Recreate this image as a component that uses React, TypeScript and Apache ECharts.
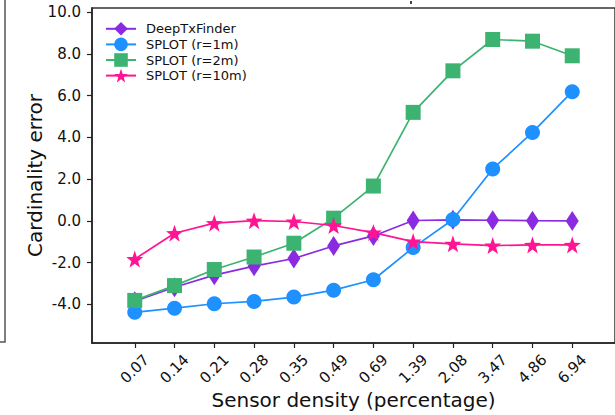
import React, { useEffect, useRef } from "react";
import * as echarts from "echarts";

const xLabels = ["0.07", "0.14", "0.21", "0.28", "0.35", "0.49", "0.69", "1.39", "2.08", "3.47", "4.86", "6.94"];
const yTicks = [-4, -2, 0, 2, 4, 6, 8, 10];
const deepTxFinder = [-3.85, -3.18, -2.6, -2.17, -1.8, -1.2, -0.72, 0.02, 0.05, 0.03, 0.01, 0.0];
const splot1m = [-4.38, -4.18, -3.97, -3.86, -3.65, -3.32, -2.82, -1.28, 0.07, 2.49, 4.24, 6.19];
const splot2m = [-3.81, -3.1, -2.33, -1.73, -1.07, 0.13, 1.67, 5.2, 7.19, 8.69, 8.61, 7.91];
const splot10m = [-1.83, -0.59, -0.11, 0.01, -0.03, -0.22, -0.56, -0.99, -1.1, -1.18, -1.15, -1.15];

const FONT = "DejaVu Sans";

export default function App() {
  const ref = useRef<HTMLDivElement>(null);
  useEffect(() => {
    if (!ref.current) return;
    const chart = echarts.init(ref.current, undefined, { renderer: "svg" });
    const toPairs = (arr: number[]) => arr.map((v, i) => [i, v]);
    const idx = xLabels.map((_, i) => i);
    const mk = (name: string, data: number[], color: string, symbol: string, size: any) => ({
      name,
      type: "line",
      data: toPairs(data),
      symbol,
      symbolSize: size,
      showSymbol: true,
      lineStyle: { color, width: 1.7 },
      itemStyle: { color, borderWidth: 0 },
      emphasis: { disabled: true },
    });
    chart.setOption({
      animation: false,
      backgroundColor: "#ffffff",
      textStyle: { fontFamily: FONT },
      grid: {
        left: 92,
        top: 8,
        right: -12,
        bottom: 72,
        show: true,
        borderColor: "#333",
        borderWidth: 1.5,
        backgroundColor: "transparent",
      },
      legend: {
        left: 100,
        top: 17,
        orient: "vertical",
        itemWidth: 30,
        itemHeight: 17,
        itemGap: 2,
        textStyle: { fontFamily: FONT, fontSize: 13, color: "#111", padding: [0, 0, 0, 5] },
        data: ["DeepTxFinder", "SPLOT (r=1m)", "SPLOT (r=2m)", "SPLOT (r=10m)"],
      },
      xAxis: {
        type: "value",
        min: -1.075,
        max: 12.075,
        name: "Sensor density (percentage)",
        nameLocation: "middle",
        nameGap: 47,
        nameMoveOverlap: false,
        nameTextStyle: { fontFamily: FONT, fontSize: 20, color: "#111" },
        axisLine: { show: true, onZero: false, lineStyle: { color: "#222", width: 1.5 } },
        axisTick: { show: true, length: 5, lineStyle: { color: "#222", width: 1.2 }, customValues: idx },
        axisLabel: {
          customValues: idx,
          rotate: 45,
          align: "center",
          verticalAlign: "middle",
          margin: 26,
          fontFamily: FONT,
          fontSize: 15,
          color: "#111",
          formatter: (v: number) => xLabels[Math.round(v)] ?? "",
        },
        splitLine: { show: false },
      },
      yAxis: {
        type: "value",
        min: -5.85,
        max: 10.2,
        name: "Cardinality error",
        nameLocation: "middle",
        nameGap: 47,
        nameMoveOverlap: false,
        nameTextStyle: { fontFamily: FONT, fontSize: 20, color: "#111" },
        axisLine: { show: true, onZero: false, lineStyle: { color: "#222", width: 1.5 } },
        axisTick: { show: true, length: 5, lineStyle: { color: "#222", width: 1.2 }, customValues: yTicks },
        axisLabel: {
          customValues: yTicks,
          margin: 11,
          fontFamily: FONT,
          fontSize: 15,
          color: "#111",
          formatter: (v: number) => v.toFixed(1),
        },
        splitLine: { show: false },
      },
      graphic: [
        {
          type: "polyline",
          shape: { points: [[0, 342], [5, 342], [5, 0]] },
          style: { stroke: "#555", lineWidth: 1.5, fill: "none" },
        },
        {
          type: "rect",
          shape: { x: 410, y: 1, width: 2, height: 3 },
          style: { fill: "#444" },
        },
      ],
      series: [
        mk("DeepTxFinder", deepTxFinder, "#8A2BE2", "diamond", [13, 20]),
        mk("SPLOT (r=1m)", splot1m, "#1E90FF", "circle", 15),
        mk("SPLOT (r=2m)", splot2m, "#3CB371", "rect", 15),
        mk("SPLOT (r=10m)", splot10m, "#FF1493", "path://M0,-10 L2.35,-3.24 L9.51,-3.09 L3.8,1.24 L5.88,8.09 L0,4 L-5.88,8.09 L-3.8,1.24 L-9.51,-3.09 L-2.35,-3.24 Z", 17),
      ],
    });
    return () => chart.dispose();
  }, []);
  return <div ref={ref} style={{ position: "fixed", left: 0, top: 0, width: 615, height: 415 }} />;
}
